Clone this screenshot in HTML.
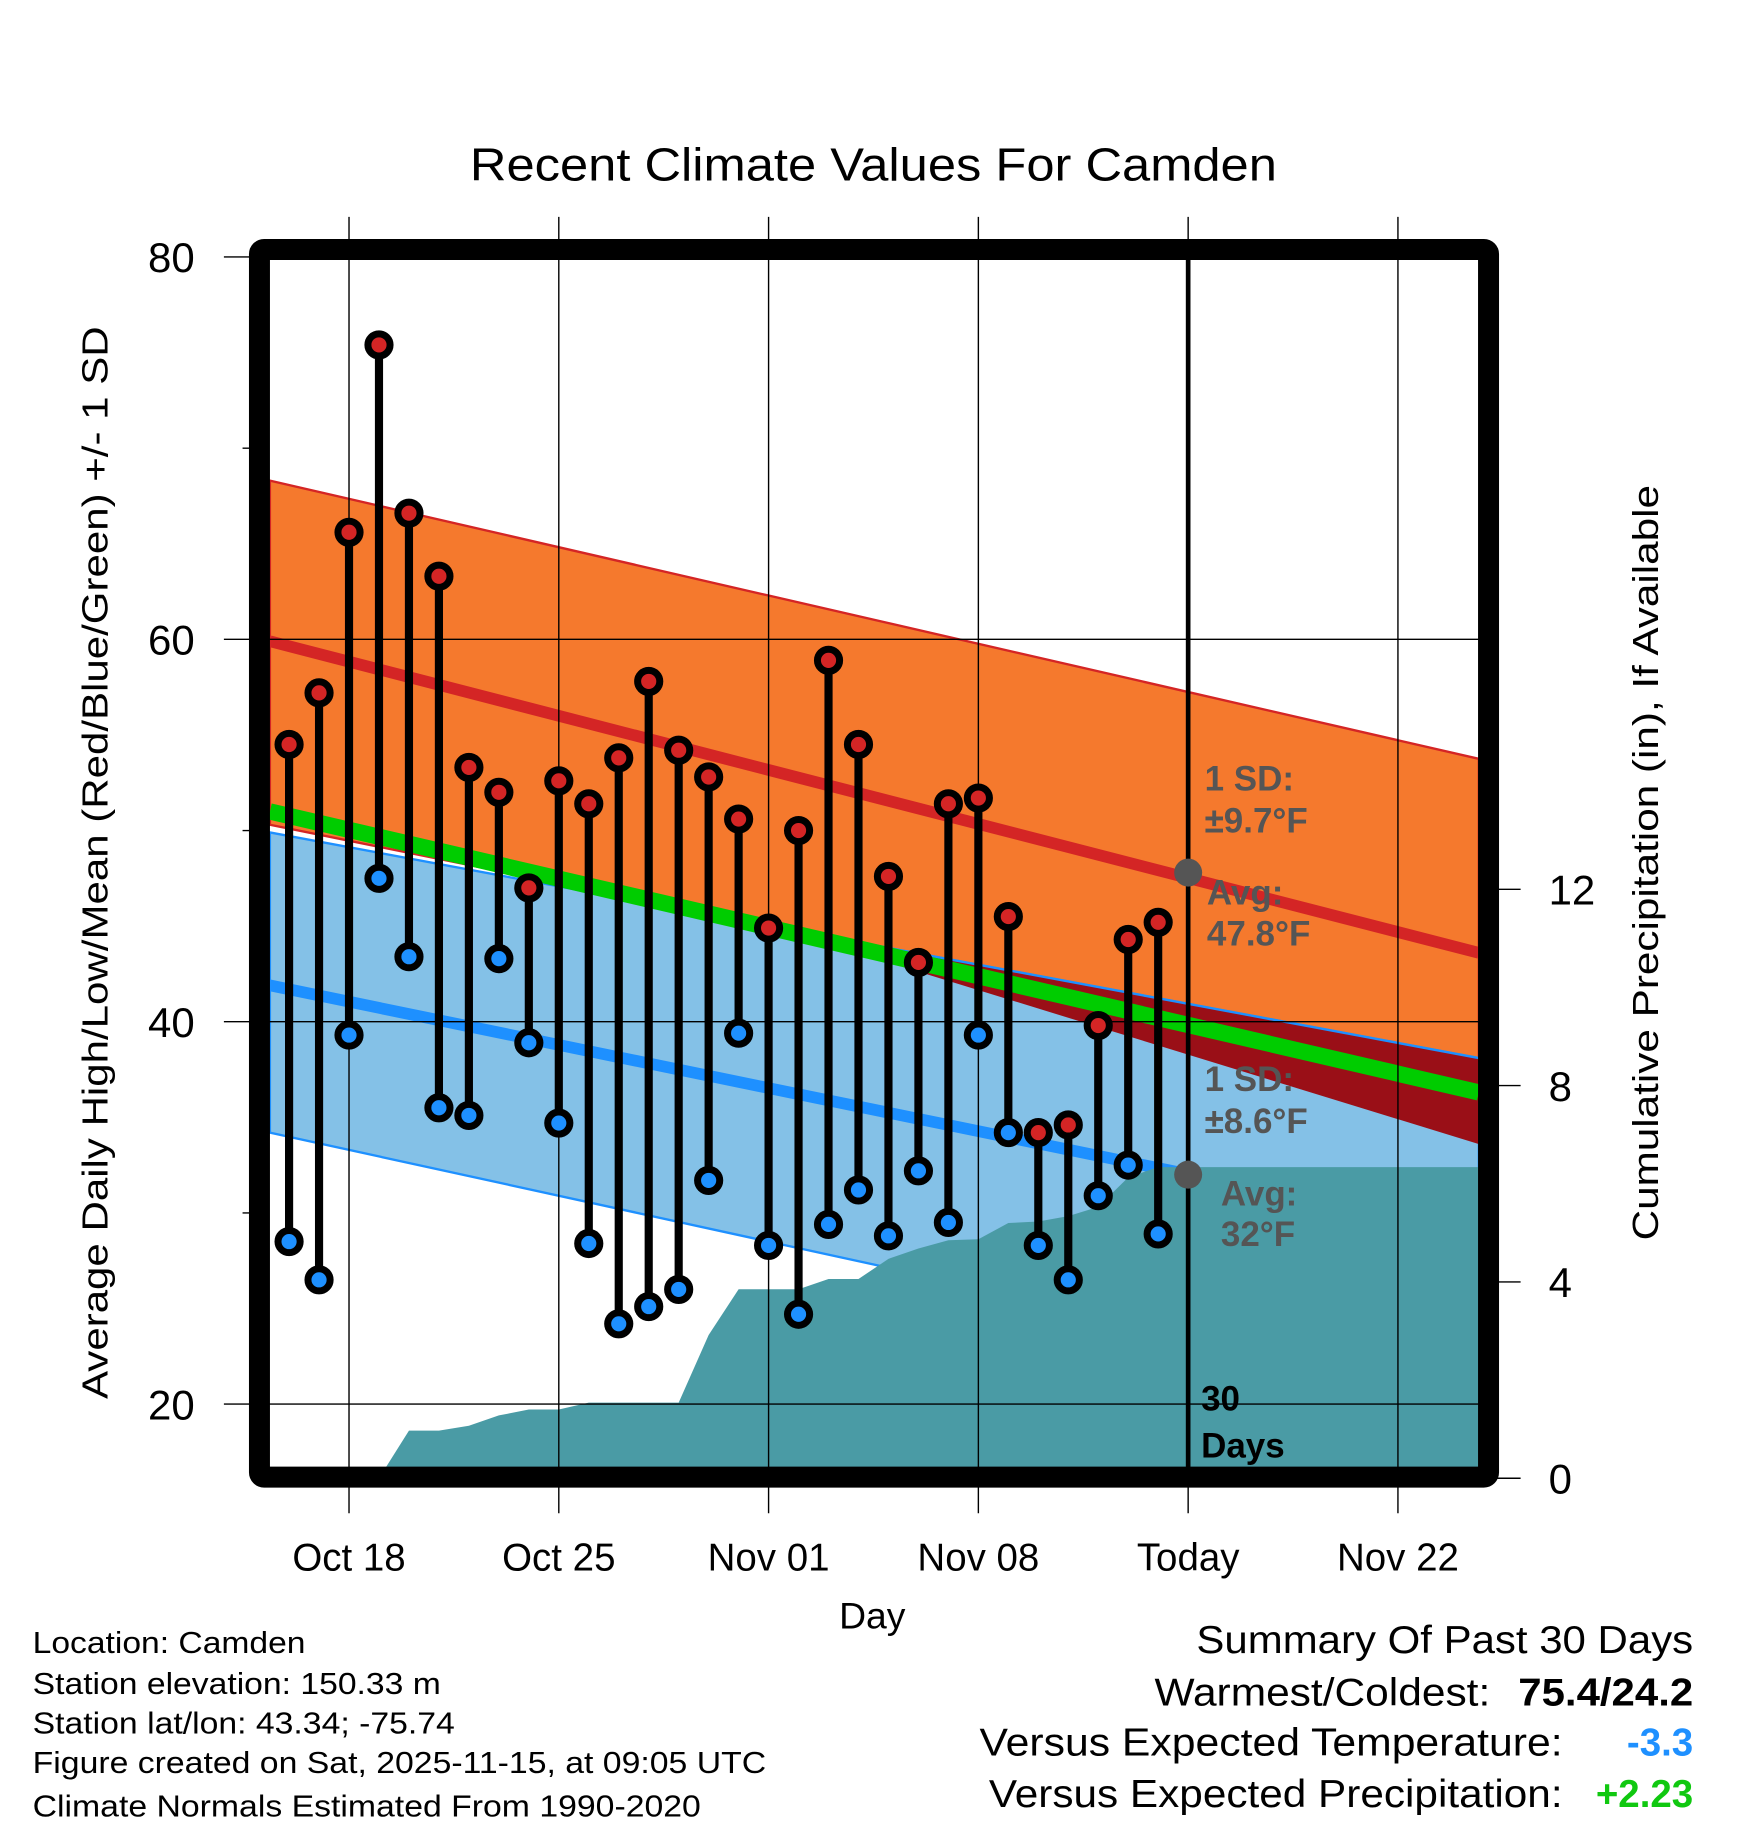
<!DOCTYPE html>
<html><head><meta charset="utf-8"><style>
html,body{margin:0;padding:0;background:#fff}
svg{display:block}
text{font-family:"Liberation Sans",sans-serif}
</style></head><body>
<svg id="chart" width="1748" height="1828" viewBox="0 0 1499 1568" preserveAspectRatio="none" xmlns="http://www.w3.org/2000/svg">
<defs><clipPath id="plotclip"><rect x="231" y="223" width="1037" height="1037"/></clipPath>
<clipPath id="highclip"><polygon id="highclippoly" points="0,0"/></clipPath></defs>
<g id="bands" clip-path="url(#plotclip)"></g>
<g id="grid"></g>
<g id="marks"></g>
<g id="axes"></g>
<text x="749" y="155" font-size="40" text-anchor="middle" textLength="692" lengthAdjust="spacingAndGlyphs">Recent Climate Values For Camden</text>
<text transform="translate(92,740) rotate(-90)" font-size="31" text-anchor="middle" textLength="920" lengthAdjust="spacingAndGlyphs">Average Daily High/Low/Mean (Red/Blue/Green) +/- 1 SD</text>
<text transform="translate(1422,740) rotate(-90)" font-size="31" text-anchor="middle" textLength="648" lengthAdjust="spacingAndGlyphs">Cumulative Precipitation (in), If Available</text>
<text x="748" y="1397" font-size="32" text-anchor="middle">Day</text>
<g font-size="26">
<text x="28" y="1418" textLength="234" lengthAdjust="spacingAndGlyphs">Location: Camden</text>
<text x="28" y="1453" textLength="350" lengthAdjust="spacingAndGlyphs">Station elevation: 150.33 m</text>
<text x="28" y="1487" textLength="362" lengthAdjust="spacingAndGlyphs">Station lat/lon: 43.34; -75.74</text>
<text x="28" y="1521" textLength="629" lengthAdjust="spacingAndGlyphs">Figure created on Sat, 2025-11-15, at 09:05 UTC</text>
<text x="28" y="1558" textLength="573" lengthAdjust="spacingAndGlyphs">Climate Normals Estimated From 1990-2020</text>
</g>
<g font-size="33" text-anchor="end">
<text x="1452" y="1418" textLength="426" lengthAdjust="spacingAndGlyphs">Summary Of Past 30 Days</text>
<text x="1278" y="1463" textLength="288" lengthAdjust="spacingAndGlyphs">Warmest/Coldest:</text>
<text x="1452" y="1463" font-weight="bold" textLength="150" lengthAdjust="spacingAndGlyphs">75.4/24.2</text>
<text x="1340" y="1506" textLength="500" lengthAdjust="spacingAndGlyphs">Versus Expected Temperature:</text>
<text x="1452" y="1506" font-weight="bold" fill="#1E90FF">-3.3</text>
<text x="1340" y="1550" textLength="492" lengthAdjust="spacingAndGlyphs">Versus Expected Precipitation:</text>
<text x="1452" y="1550" font-weight="bold" fill="#10C810">+2.23</text>
</g>
<script>
// ---- data ----
const days = [-2,-1,0,1,2,3,4,5,6,7,8,9,10,11,12,13,14,15,16,17,18,19,20,21,22,23,24,25,26,27];
const highs = [54.5,57.2,65.6,75.4,66.6,63.3,53.3,52.0,47.0,52.6,51.4,53.8,57.8,54.2,52.8,50.6,44.9,50.0,58.9,54.5,47.6,43.1,51.4,51.7,45.5,34.2,34.6,39.8,44.3,45.2];
const lows = [28.5,26.5,39.3,47.5,43.4,35.5,35.1,43.3,38.9,34.7,28.4,24.2,25.1,26.0,31.7,39.4,28.3,24.7,29.4,31.2,28.8,32.2,29.5,39.3,34.2,28.3,26.5,30.9,32.5,28.9];
const precipDays = [1,2,3,4,5,6,7,8,9,10,11,12,13,14,15,16,17,18,19,20,21,22,23,24,25,26,27,28,37.7];
const precipCum = [0,0.97,0.97,1.07,1.28,1.40,1.40,1.54,1.54,1.54,1.54,2.92,3.85,3.85,3.85,4.06,4.06,4.47,4.68,4.85,4.87,5.20,5.23,5.34,5.53,6.13,6.34,6.34,6.34];
const normDays = [-2.64,14,37.7];
const highAvg = [59.9,53.17,43.6];
const highTop = [68.3,62.29,53.75];
const highBot = [50.3,45.03,33.6];
const lowAvg = [41.9,36.53,28.9];
const lowTop = [49.9,45.03,38.1];
const lowBot = [34.2,28.5,20.4];
const meanAvg = [51.0,44.93,36.3];
const xTickDays = [0,7,14,21,28,35];
const xTickLabels = ["Oct 18","Oct 25","Nov 01","Nov 08","Today","Nov 22"];
const yTicks = [80,60,40,20];
const yMinor = [70,50,30];
const pTicks = [0,4,8,12];
// ---- scales ----
const X = d => 299.3 + 25.7*d;
const Y = v => 220.4 + (80 - v)*16.4;
const P = v => 1268 - v*42.1;
const NS='http://www.w3.org/2000/svg';
function mk(parent, tag, attrs){const e=document.createElementNS(NS,tag);for(const k in attrs)e.setAttribute(k,attrs[k]);parent.appendChild(e);return e;}
const bands=document.getElementById('bands'), grid=document.getElementById('grid'), marks=document.getElementById('marks'), axes=document.getElementById('axes');
function band(top,bot){const t=normDays.map((d,i)=>`${X(d)},${Y(top[i])}`);const b=normDays.map((d,i)=>`${X(d)},${Y(bot[i])}`).reverse();return t.concat(b).join(' ');}
function line(vals){return normDays.map((d,i)=>`${X(d)},${Y(vals[i])}`).join(' ');}
let e;
e=mk(bands,'polygon',{points:band(highTop,highBot),fill:'#F5792D',stroke:'#D42525','stroke-width':2});


e=mk(bands,'polygon',{points:band(lowTop,lowBot),fill:'#84C1E7',stroke:'#1E90FF','stroke-width':2});


document.getElementById('highclippoly').setAttribute('points',band(highTop,highBot));
e=mk(bands,'polygon',{points:band(lowTop,lowBot),fill:'#9A0F17','clip-path':'url(#highclip)'});


e=mk(bands,'polyline',{points:line(lowTop),fill:'none',stroke:'#1E90FF','stroke-width':2,'clip-path':'url(#highclip)'});
e=mk(bands,'polyline',{points:line(meanAvg),fill:'none',stroke:'#00CC00','stroke-width':14});


e=mk(bands,'polyline',{points:line(highAvg),fill:'none',stroke:'#D42525','stroke-width':10});


e=mk(bands,'polyline',{points:line(lowAvg),fill:'none',stroke:'#1E90FF','stroke-width':10});


// precip area
{
 let pts=`${X(precipDays[0])},${P(0)} `;
 precipDays.forEach((d,i)=>{pts+=`${X(d)},${P(precipCum[i])} `;});
 pts+=`${X(precipDays[precipDays.length-1])},${P(0)}`;
 e=mk(bands,'polygon',{points:pts,fill:'#4A9BA5'});
 
 
}
// grid
xTickDays.forEach(d=>{e=mk(grid,'line',{x1:X(d),y1:186,x2:X(d),y2:1298,stroke:'#000','stroke-width':1.2});
 
 });
yTicks.forEach(v=>{e=mk(grid,'line',{x1:192,y1:Y(v),x2:1268,y2:Y(v),stroke:'#000','stroke-width':1.2});
 
 });
yMinor.forEach(v=>{mk(grid,'line',{x1:208,y1:Y(v),x2:224,y2:Y(v),stroke:'#000','stroke-width':1.2});});
pTicks.forEach(v=>{mk(grid,'line',{x1:1275,y1:P(v),x2:1304,y2:P(v),stroke:'#000','stroke-width':1.2});});
// today line
e=mk(marks,'line',{x1:X(28),y1:223,x2:X(28),y2:1262,stroke:'#000','stroke-width':4});


// stems and markers
days.forEach((d,i)=>{
 const g=mk(marks,'g',{});
 
 
 mk(g,'line',{x1:X(d),y1:Y(highs[i]),x2:X(d),y2:Y(lows[i]),stroke:'#000','stroke-width':7});
 const h=mk(g,'circle',{cx:X(d),cy:Y(highs[i]),r:9.5,fill:'#D42525',stroke:'#000','stroke-width':6});
 
 
 const l=mk(g,'circle',{cx:X(d),cy:Y(lows[i]),r:9.5,fill:'#1E90FF',stroke:'#000','stroke-width':6});
 
 
});
e=mk(marks,'circle',{cx:X(28),cy:Y(47.8),r:12,fill:'#555'});


e=mk(marks,'circle',{cx:X(28),cy:Y(32),r:12,fill:'#555'});


// annotations
const ann=[[1033,678,'1 SD:','#555'],[1033,714,'±9.7°F','#555'],[1035,776,'Avg:','#555'],[1035,811,'47.8°F','#555'],[1033,936,'1 SD:','#555'],[1033,972,'±8.6°F','#555'],[1047,1034,'Avg:','#555'],[1047,1069,'32°F','#555'],[1030,1210,'30','#000'],[1030,1250,'Days','#000']];
ann.forEach(a=>{e=mk(marks,'text',{x:a[0],y:a[1],'font-size':30,'font-weight':'bold',fill:a[3]});e.textContent=a[2];
 
 });
// frame
e=mk(axes,'rect',{x:222.5,y:214,width:1054,height:1053,fill:'none',stroke:'#000','stroke-width':18,rx:4});


xTickDays.forEach((d,i)=>{e=mk(axes,'text',{x:X(d),y:1347,'font-size':33,'text-anchor':'middle'});e.textContent=xTickLabels[i];
 
 });
yTicks.forEach(v=>{e=mk(axes,'text',{x:167,y:Y(v)+13,'font-size':36,'text-anchor':'end'});e.textContent=v;
 
 });
pTicks.forEach(v=>{e=mk(axes,'text',{x:1328,y:P(v)+13,'font-size':36});e.textContent=v;
 
 });
</script>
</svg>
</body></html>
